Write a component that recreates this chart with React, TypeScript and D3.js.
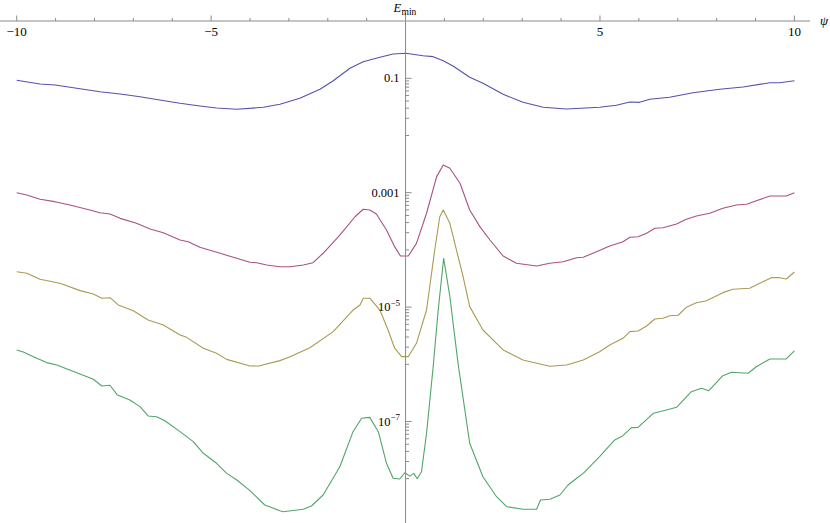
import React from "react";
import * as d3 from "d3";

// [psi, E_min] samples
const seriesBlue: [number, number][] = [
  [-10, 0.0923], [-9.4, 0.0795], [-9.01, 0.0764], [-7.86, 0.0583], [-7.34, 0.0532], [-6.83, 0.0476],
  [-6.32, 0.0418], [-5.8, 0.0366], [-5.29, 0.0328], [-4.86, 0.0303], [-4.34, 0.0287], [-3.66, 0.0311],
  [-3.23, 0.0351], [-2.72, 0.0447], [-2.2, 0.0643], [-1.86, 0.0908], [-1.43, 0.15], [-1.09, 0.195],
  [-0.66, 0.233], [-0.32, 0.266], [0, 0.274], [0.45, 0.248], [0.71, 0.239], [0.97, 0.203], [1.22, 0.164],
  [1.65, 0.104], [1.99, 0.0818], [2.51, 0.0525], [3.02, 0.038], [3.54, 0.0311], [4.14, 0.029],
  [4.99, 0.0311], [5.42, 0.0337], [5.77, 0.0385], [6.02, 0.038], [6.28, 0.043], [6.79, 0.0466],
  [7.39, 0.056], [8.08, 0.0643], [8.68, 0.0705], [9.37, 0.0838], [9.62, 0.0838], [10, 0.0908],
];

const seriesMagenta: [number, number][] = [
  [-10, 1.0e-3], [-9.74, 9.12e-4], [-9.4, 7.67e-4], [-9.02, 6.97e-4], [-8.63, 6.1e-4], [-8.12, 4.99e-4],
  [-7.86, 4.47e-4], [-7.6, 4.25e-4], [-7.34, 3.56e-4], [-6.92, 2.92e-4], [-6.57, 2.32e-4], [-6.23, 2.0e-4],
  [-5.8, 1.49e-4], [-5.59, 1.39e-4], [-5.29, 1.11e-4], [-4.77, 8.73e-5], [-4.43, 7.43e-5], [-4.0, 6.07e-5],
  [-3.83, 5.97e-5], [-3.57, 5.45e-5], [-3.23, 5.08e-5], [-2.97, 5.08e-5], [-2.63, 5.45e-5], [-2.38, 5.97e-5],
  [-2.12, 8.73e-5], [-1.69, 1.82e-4], [-1.3, 3.8e-4], [-1.09, 5.13e-4], [-0.92, 4.99e-4], [-0.75, 4.25e-4],
  [-0.49, 2.23e-4], [-0.28, 1.14e-4], [-0.13, 7.82e-5], [0.07, 7.82e-5], [0.28, 1.3e-4], [0.54, 4.37e-4],
  [0.8, 1.91e-3], [0.97, 3.05e-3], [1.14, 2.67e-3], [1.4, 1.46e-3], [1.65, 4.99e-4], [1.91, 2.55e-4],
  [2.17, 1.49e-4], [2.51, 7.82e-5], [2.85, 5.83e-5], [3.37, 5.23e-5], [3.71, 5.83e-5], [4.05, 6.22e-5],
  [4.4, 7.31e-5], [4.57, 7.43e-5], [4.91, 9.31e-5], [5.25, 1.17e-4], [5.59, 1.39e-4], [5.77, 1.66e-4],
  [5.98, 1.7e-4], [6.2, 1.95e-4], [6.41, 2.39e-4], [6.62, 2.44e-4], [6.97, 2.84e-4], [7.22, 3.43e-4],
  [7.48, 3.92e-4], [7.82, 4.37e-4], [8.16, 5.33e-4], [8.51, 6.1e-4], [8.77, 6.27e-4], [9.02, 7.24e-4],
  [9.37, 8.75e-4], [9.79, 8.75e-4], [10, 1.0e-3],
];

const seriesOlive: [number, number][] = [
  [-10, 4.16e-5], [-9.74, 3.9e-5], [-9.4, 3.06e-5], [-8.89, 2.61e-5], [-8.37, 1.94e-5], [-8.03, 1.69e-5],
  [-7.81, 1.43e-5], [-7.6, 1.46e-5], [-7.39, 1.09e-5], [-7.0, 8.65e-6], [-6.62, 5.94e-6], [-6.23, 4.86e-6],
  [-5.8, 3.25e-6], [-5.63, 2.96e-6], [-5.2, 1.91e-6], [-4.86, 1.56e-6], [-4.6, 1.22e-6], [-4.0, 9.33e-7],
  [-3.75, 9.4e-7], [-3.23, 1.16e-6], [-2.97, 1.36e-6], [-2.46, 1.95e-6], [-1.86, 3.72e-6], [-1.35, 8.89e-6],
  [-1.17, 1.09e-5], [-1.09, 1.43e-5], [-0.92, 1.43e-5], [-0.66, 8.89e-6], [-0.45, 3.98e-6], [-0.28, 1.91e-6],
  [-0.1, 1.36e-6], [0.07, 1.36e-6], [0.28, 2.33e-6], [0.54, 8.89e-6], [0.75, 9.95e-5], [0.88, 3.8e-4],
  [0.97, 4.99e-4], [1.14, 2.92e-4], [1.31, 9.95e-5], [1.48, 3.4e-5], [1.65, 1.02e-5], [1.99, 3.98e-6],
  [2.51, 1.78e-6], [3.02, 1.19e-6], [3.71, 9.23e-7], [4.14, 9.73e-7], [4.57, 1.19e-6], [4.99, 1.66e-6],
  [5.25, 2.17e-6], [5.59, 2.85e-6], [5.77, 3.72e-6], [5.98, 3.82e-6], [6.2, 4.68e-6], [6.41, 6.19e-6],
  [6.62, 6.37e-6], [6.79, 7.08e-6], [7.01, 7.2e-6], [7.22, 9.93e-6], [7.48, 1.19e-5], [7.74, 1.29e-5],
  [8.16, 1.79e-5], [8.42, 2.05e-5], [8.85, 2.13e-5], [9.11, 2.61e-5], [9.41, 3.27e-5], [9.62, 3.27e-5],
  [9.79, 3.1e-5], [10, 4.11e-5],
];

const seriesGreen: [number, number][] = [
  [-10, 1.78e-6], [-9.83, 1.64e-6], [-9.57, 1.36e-6], [-9.23, 1.07e-6], [-8.97, 9.72e-7], [-8.37, 6.76e-7],
  [-8.03, 5.47e-7], [-7.81, 4.18e-7], [-7.6, 4.3e-7], [-7.41, 2.9e-7], [-7.09, 2.38e-7], [-6.83, 1.82e-7],
  [-6.62, 1.25e-7], [-6.4, 1.21e-7], [-6.19, 1.03e-7], [-5.8, 6.64e-8], [-5.46, 4.44e-8], [-5.2, 2.78e-8],
  [-4.86, 1.86e-8], [-4.6, 1.24e-8], [-4.34, 9.48e-9], [-4.0, 6.17e-9], [-3.62, 3.47e-9], [-3.23, 2.76e-9],
  [-3.15, 2.65e-9], [-2.63, 2.92e-9], [-2.42, 3.33e-9], [-2.12, 5.19e-9], [-1.69, 1.62e-8], [-1.35, 6.64e-8],
  [-1.13, 1.14e-7], [-0.92, 1.18e-7], [-0.7, 6.64e-8], [-0.49, 1.86e-8], [-0.32, 1.02e-8], [-0.15, 9.88e-9],
  [-0.02, 1.27e-8], [0.11, 1.11e-8], [0.21, 1.24e-8], [0.3, 1.0e-8], [0.41, 1.32e-8], [0.54, 6.22e-8],
  [0.71, 9.08e-7], [0.84, 8.89e-6], [0.98, 7.13e-5], [1.14, 1.52e-5], [1.35, 1.04e-6], [1.65, 4.16e-8],
  [1.99, 1.08e-8], [2.34, 4.84e-9], [2.6, 3.24e-9], [3.02, 2.92e-9], [3.37, 2.92e-9], [3.47, 4.25e-9],
  [3.71, 4.37e-9], [3.97, 5.19e-9], [4.18, 7.76e-9], [4.4, 1.02e-8], [4.57, 1.24e-8], [4.99, 2.43e-8],
  [5.38, 4.75e-8], [5.59, 5.65e-8], [5.81, 7.8e-8], [5.98, 7.9e-8], [6.37, 1.39e-7], [6.71, 1.59e-7],
  [6.97, 1.77e-7], [7.35, 3.32e-7], [7.61, 3.8e-7], [7.8, 3.45e-7], [8.16, 6.32e-7], [8.38, 7.24e-7],
  [8.81, 6.97e-7], [9.02, 9.08e-7], [9.37, 1.24e-6], [9.79, 1.24e-6], [10, 1.71e-6],
];

const xMajorTicks = [-10, -5, 5, 10];
const xMinorTicks = [-9, -8, -7, -6, -4, -3, -2, -1, 1, 2, 3, 4, 6, 7, 8, 9];
const yMajorExponents = [-1, -3, -5, -7];

const colors = ["rgb(84,82,172)", "rgb(170,80,132)", "rgb(170,154,82)", "rgb(80,166,104)"];

const W = 830;
const H = 523;

export default function App() {
  const x = d3.scaleLinear().domain([-10, 10]).range([16.7, 794.4]);
  const y = d3.scaleLog().domain([1e-1, 1e-7]).range([78.3, 78.3 + 6 * 57.2]);
  const x0 = x(0);
  const axisY = 21;
  const line = d3
    .line<[number, number]>()
    .x((d) => x(d[0]))
    .y((d) => y(d[1]));

  const minorY: number[] = [];
  yMajorExponents.forEach((m) => {
    for (let j = 1; j <= 9; j++) minorY.push(j * Math.pow(10, m - 1));
  });

  const font = "'Liberation Serif', 'Times New Roman', serif";
  const axisColor = "#8a8a8a";
  const fmtX = (v: number) => (v < 0 ? "\u2212" + Math.abs(v) : String(v));

  return (
    <svg
      width={W}
      height={H}
      style={{ position: "absolute", left: 0, top: 0, background: "#fff" }}
      fontFamily={font}
    >
      {/* series */}
      {[seriesBlue, seriesMagenta, seriesOlive, seriesGreen].map((s, i) => (
        <path key={i} d={line(s) || ""} fill="none" stroke={colors[i]} strokeWidth={1.1} strokeLinejoin="round" />
      ))}

      {/* x axis */}
      <line x1={0} x2={810} y1={axisY} y2={axisY} stroke={axisColor} strokeWidth={1} />
      {xMajorTicks.map((t) => (
        <g key={"xm" + t}>
          <line x1={x(t)} x2={x(t)} y1={axisY} y2={axisY - 5.5} stroke={axisColor} />
          <text x={x(t)} y={36} textAnchor="middle" fontSize={13} fill="#000">
            {fmtX(t)}
          </text>
        </g>
      ))}
      {xMinorTicks.map((t) => (
        <line key={"xn" + t} x1={x(t)} x2={x(t)} y1={axisY} y2={axisY - 3} stroke={axisColor} />
      ))}
      <text x={820} y={25} fontSize={13} fontStyle="italic" fill="#000">
        ψ
      </text>

      {/* y axis */}
      <line x1={x0} x2={x0} y1={13} y2={H} stroke={axisColor} strokeWidth={1} />
      {minorY.map((v, i) => (
        <line key={"yn" + i} x1={x0} x2={x0 + 3.5} y1={y(v)} y2={y(v)} stroke={axisColor} />
      ))}
      {yMajorExponents.map((m) => (
        <g key={"ym" + m}>
          <line x1={x0} x2={x0 + 6} y1={y(Math.pow(10, m))} y2={y(Math.pow(10, m))} stroke={axisColor} />
          {m === -1 || m === -3 ? (
            <text x={x0 - 6} y={y(Math.pow(10, m)) + 4} textAnchor="end" fontSize={12.5} fill="#000">
              {m === -1 ? "0.1" : "0.001"}
            </text>
          ) : (
            <text x={x0 - 5.5} y={y(Math.pow(10, m)) + 4} textAnchor="end" fontSize={12.5} fill="#000">
              <tspan>10</tspan>
              <tspan dy={-5.5} fontSize={9}>
                {"\u2212" + Math.abs(m)}
              </tspan>
            </text>
          )}
        </g>
      ))}
      <text x={393.5} y={12} fontSize={12.5} fontStyle="italic" fill="#000">
        E
      </text>
      <text x={401.5} y={15} fontSize={9.5} fill="#000">
        min
      </text>
    </svg>
  );
}
